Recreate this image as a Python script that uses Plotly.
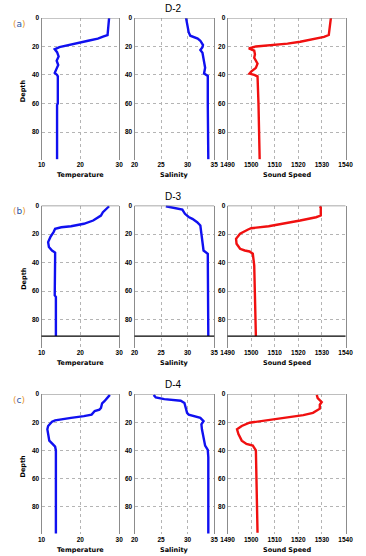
import plotly.graph_objects as go

W, H = 366, 556

# ---------------- data ----------------
stations = ["D-2", "D-3", "D-4"]
panel_tags = ["a", "b", "c"]

d2_temp_depth = [0, 5, 12, 13, 14.5, 16, 17.5, 19, 20.5, 22, 24, 27, 30, 33, 36, 38.5, 40, 41, 60, 61, 99]
d2_temp = [27.4, 27.2, 27.0, 26.0, 24.5, 22.0, 19.5, 16.8, 14.6, 13.4, 14.0, 14.4, 13.9, 14.3, 13.9, 13.4, 14.0, 14.2, 14.2, 14.0, 14.0]
d2_sal_depth = [0, 5, 10, 12.5, 13.5, 14.5, 16, 19, 20.5, 22.5, 24.5, 29.5, 35, 39, 40.7, 60, 99]
d2_sal = [29.7, 29.9, 30.2, 30.5, 31.2, 31.9, 32.4, 32.9, 32.8, 32.4, 32.8, 33.1, 33.3, 33.1, 33.8, 33.8, 33.9]
d2_ss_depth = [0, 7, 12, 13.3, 15, 16.7, 18, 19, 20, 21.4, 23, 25.5, 28, 32, 35, 37.7, 39, 40, 41, 60, 99]
d2_ss = [1533.8, 1533.3, 1532.9, 1530.9, 1526, 1520.8, 1515.4, 1507.4, 1502, 1499, 1501.3, 1501.6, 1501.3,
         1502.7, 1502.0, 1500.0, 1499.3, 1501.3, 1502.7, 1503.1, 1503.6]

d3_temp_depth = [0.5, 2.5, 4.7, 7, 9, 10.5, 12.8, 14.5, 15.2, 16.3, 18.6, 22, 25.6, 29, 31.5, 33, 37, 63, 64, 91.5]
d3_temp = [27.4, 26.5, 25.8, 25.3, 24.3, 23.3, 20.9, 17.6, 15.1, 13.5, 13.1, 12.3, 11.7, 11.9, 12.7, 13.5, 13.5, 13.4, 13.7, 13.7]
d3_sal_depth = [0.5, 1.9, 2.8, 5.8, 8, 9.3, 11.7, 14, 17.5, 25.6, 31.5, 33.8, 63, 91.5]
d3_sal = [25.9, 27.5, 29.0, 29.5, 30.2, 30.9, 31.8, 32.4, 32.5, 32.7, 33.0, 33.8, 33.8, 33.9]
d3_ss_depth = [0.5, 1.5, 7, 8.2, 10.5, 12.8, 14.5, 15.9, 16.8, 19.8, 23.3, 26.8, 30.3, 31.5, 32.2, 33.8, 42, 91.5]
d3_ss = [1529.1, 1529.5, 1529.5, 1527.5, 1520.8, 1514, 1507.4, 1500, 1498.7, 1495.3, 1493.6, 1493.8, 1495.3,
         1497.3, 1499.3, 1500.7, 1501.3, 1502.0]

d4_temp_depth = [0.5, 2.8, 5, 6.5, 9.8, 11, 12, 14.5, 15.6, 16.8, 17.5, 18.6, 19.6, 22.6, 25, 29.6, 33, 35, 37.3, 40, 99]
d4_temp = [27.6, 27.0, 26.2, 25.6, 25.3, 24.9, 23.7, 22.9, 20.9, 17.6, 15.6, 13.5, 12.7, 11.7, 11.5, 11.7, 12.0, 12.7, 13.5, 13.7, 13.7]
d4_sal_depth = [0.5, 2.3, 3.5, 4.7, 6.3, 9.8, 13.3, 14.5, 15.6, 16.8, 19.1, 21.4, 25, 30.8, 36.6, 39.6, 44.8, 99]
d4_sal = [23.6, 24.0, 25.6, 28.7, 29.4, 29.6, 29.9, 30.2, 31.5, 32.4, 33.0, 32.6, 32.7, 33.0, 33.3, 33.8, 33.9, 33.9]
d4_ss_depth = [0.5, 2.8, 5.6, 7.5, 10.3, 13.3, 14.9, 16.8, 18.2, 20.3, 22.6, 25, 28.4, 33, 35.4, 36.6, 40, 98.5]
d4_ss = [1527.8, 1528.2, 1529.9, 1529.1, 1529.1, 1526.2, 1522.1, 1514, 1507.4, 1499.3, 1496, 1494, 1494.6,
         1496, 1498, 1500.7, 1502, 1502.7]

bottom_depth_d3 = 91.5

var_names = ["Temperature", "Salinity", "Sound Speed"]
x_ranges = [[10, 30], [20, 35], [1490, 1540]]
x_ticks = [[10, 20, 30], [20, 25, 30, 35], [1490, 1500, 1510, 1520, 1530, 1540]]
y_ticks = [0, 20, 40, 60, 80]
depth_max = 99.5

profiles = [
    [(d2_temp, d2_temp_depth), (d2_sal, d2_sal_depth), (d2_ss, d2_ss_depth)],
    [(d3_temp, d3_temp_depth), (d3_sal, d3_sal_depth), (d3_ss, d3_ss_depth)],
    [(d4_temp, d4_temp_depth), (d4_sal, d4_sal_depth), (d4_ss, d4_ss_depth)],
]
line_colors = ["#1010f0", "#1010f0", "#f01010"]

# ---------------- layout geometry (window pixels) ----------------
col_px = [(36, 117), (133, 216), (230, 353)]
row_px = [(14, 157), (203, 346), (393, 534)]


def xd(px):
    return px / W


def yd(py):
    return 1 - py / H


fig = go.Figure()
layout = dict(
    width=W, height=H, margin=dict(l=0, r=0, t=0, b=0),
    paper_bgcolor="white", plot_bgcolor="white", showlegend=False,
)
annotations = []
shapes = []

tick_font = dict(family="Liberation Sans, Arial", size=6.5, color="black", weight="bold")
lab_font = dict(family="DejaVu Sans", size=6.5, color="black", weight="bold")

for r in range(3):
    for c in range(3):
        i = r * 3 + c + 1
        xs = "" if i == 1 else str(i)
        vals, dep = profiles[r][c]
        fig.add_trace(go.Scatter(
            x=vals, y=dep, mode="lines",
            line=dict(color=line_colors[c], width=2.4),
            xaxis="x" + xs, yaxis="y" + xs, hoverinfo="skip",
        ))
        layout["xaxis" + xs] = dict(
            domain=[xd(col_px[c][0]), xd(col_px[c][1])], anchor="y" + xs,
            range=x_ranges[c], tickvals=x_ticks[c], ticks="", showline=False,
            showgrid=True, gridcolor="#b4b4b4", griddash="dot", gridwidth=1,
            zeroline=False, tickfont=tick_font, fixedrange=True,
        )
        layout["yaxis" + xs] = dict(
            domain=[yd(row_px[r][1]), yd(row_px[r][0])], anchor="x" + xs,
            range=[depth_max, 0], tickvals=y_ticks, ticks="",
            showline=True, linecolor="#8c8c8c", linewidth=1, mirror=True,
            showgrid=True, gridcolor="#b4b4b4", griddash="dot", gridwidth=1,
            zeroline=False, tickfont=tick_font, fixedrange=True,
        )
        # top frame line
        shapes.append(dict(type="line", xref="x" + xs + " domain", yref="y" + xs,
                           x0=0, x1=1, y0=0, y1=0, line=dict(color="#8c8c8c", width=1.2)))
        if r == 1:
            shapes.append(dict(type="line", xref="x" + xs + " domain", yref="y" + xs,
                               x0=0, x1=1, y0=bottom_depth_d3, y1=bottom_depth_d3,
                               line=dict(color="black", width=1.3)))
        # x-axis title
        annotations.append(dict(
            text=var_names[c], x=xd((col_px[c][0] + col_px[c][1]) / 2), y=yd(row_px[r][1] + 15.5),
            xref="paper", yref="paper", showarrow=False, font=lab_font,
            xanchor="center", yanchor="middle",
        ))
    # Depth label
    annotations.append(dict(
        text="Depth", x=xd(17), y=yd((row_px[r][0] + row_px[r][1]) / 2 + 2), xref="paper", yref="paper",
        showarrow=False, textangle=-90, font=lab_font, xanchor="center", yanchor="middle",
    ))
    # station title
    annotations.append(dict(
        text=stations[r], x=xd(174), y=yd(row_px[r][0] - 9.5), xref="paper", yref="paper",
        showarrow=False, font=dict(family="Liberation Sans, Arial", size=10, color="black"),
        xanchor="center", yanchor="middle",
    ))
    # panel tag
    annotations.append(dict(
        text="<span style='color:#e8962a'>(</span><span style='color:#2a56a8'>" + panel_tags[r]
             + "</span><span style='color:#e8962a'>)</span>",
        x=xd(13), y=yd(row_px[r][0] + 6), xref="paper", yref="paper", showarrow=False,
        font=dict(family="DejaVu Sans", size=9, color="#2a56a8"), xanchor="center", yanchor="middle",
    ))

layout["annotations"] = annotations
layout["shapes"] = shapes
fig.update_layout(**layout)
fig.write_html("out.html",
               config={"displayModeBar": False, "staticPlot": True},
               post_script="document.body.style.margin='0';document.body.style.overflow='hidden';")
